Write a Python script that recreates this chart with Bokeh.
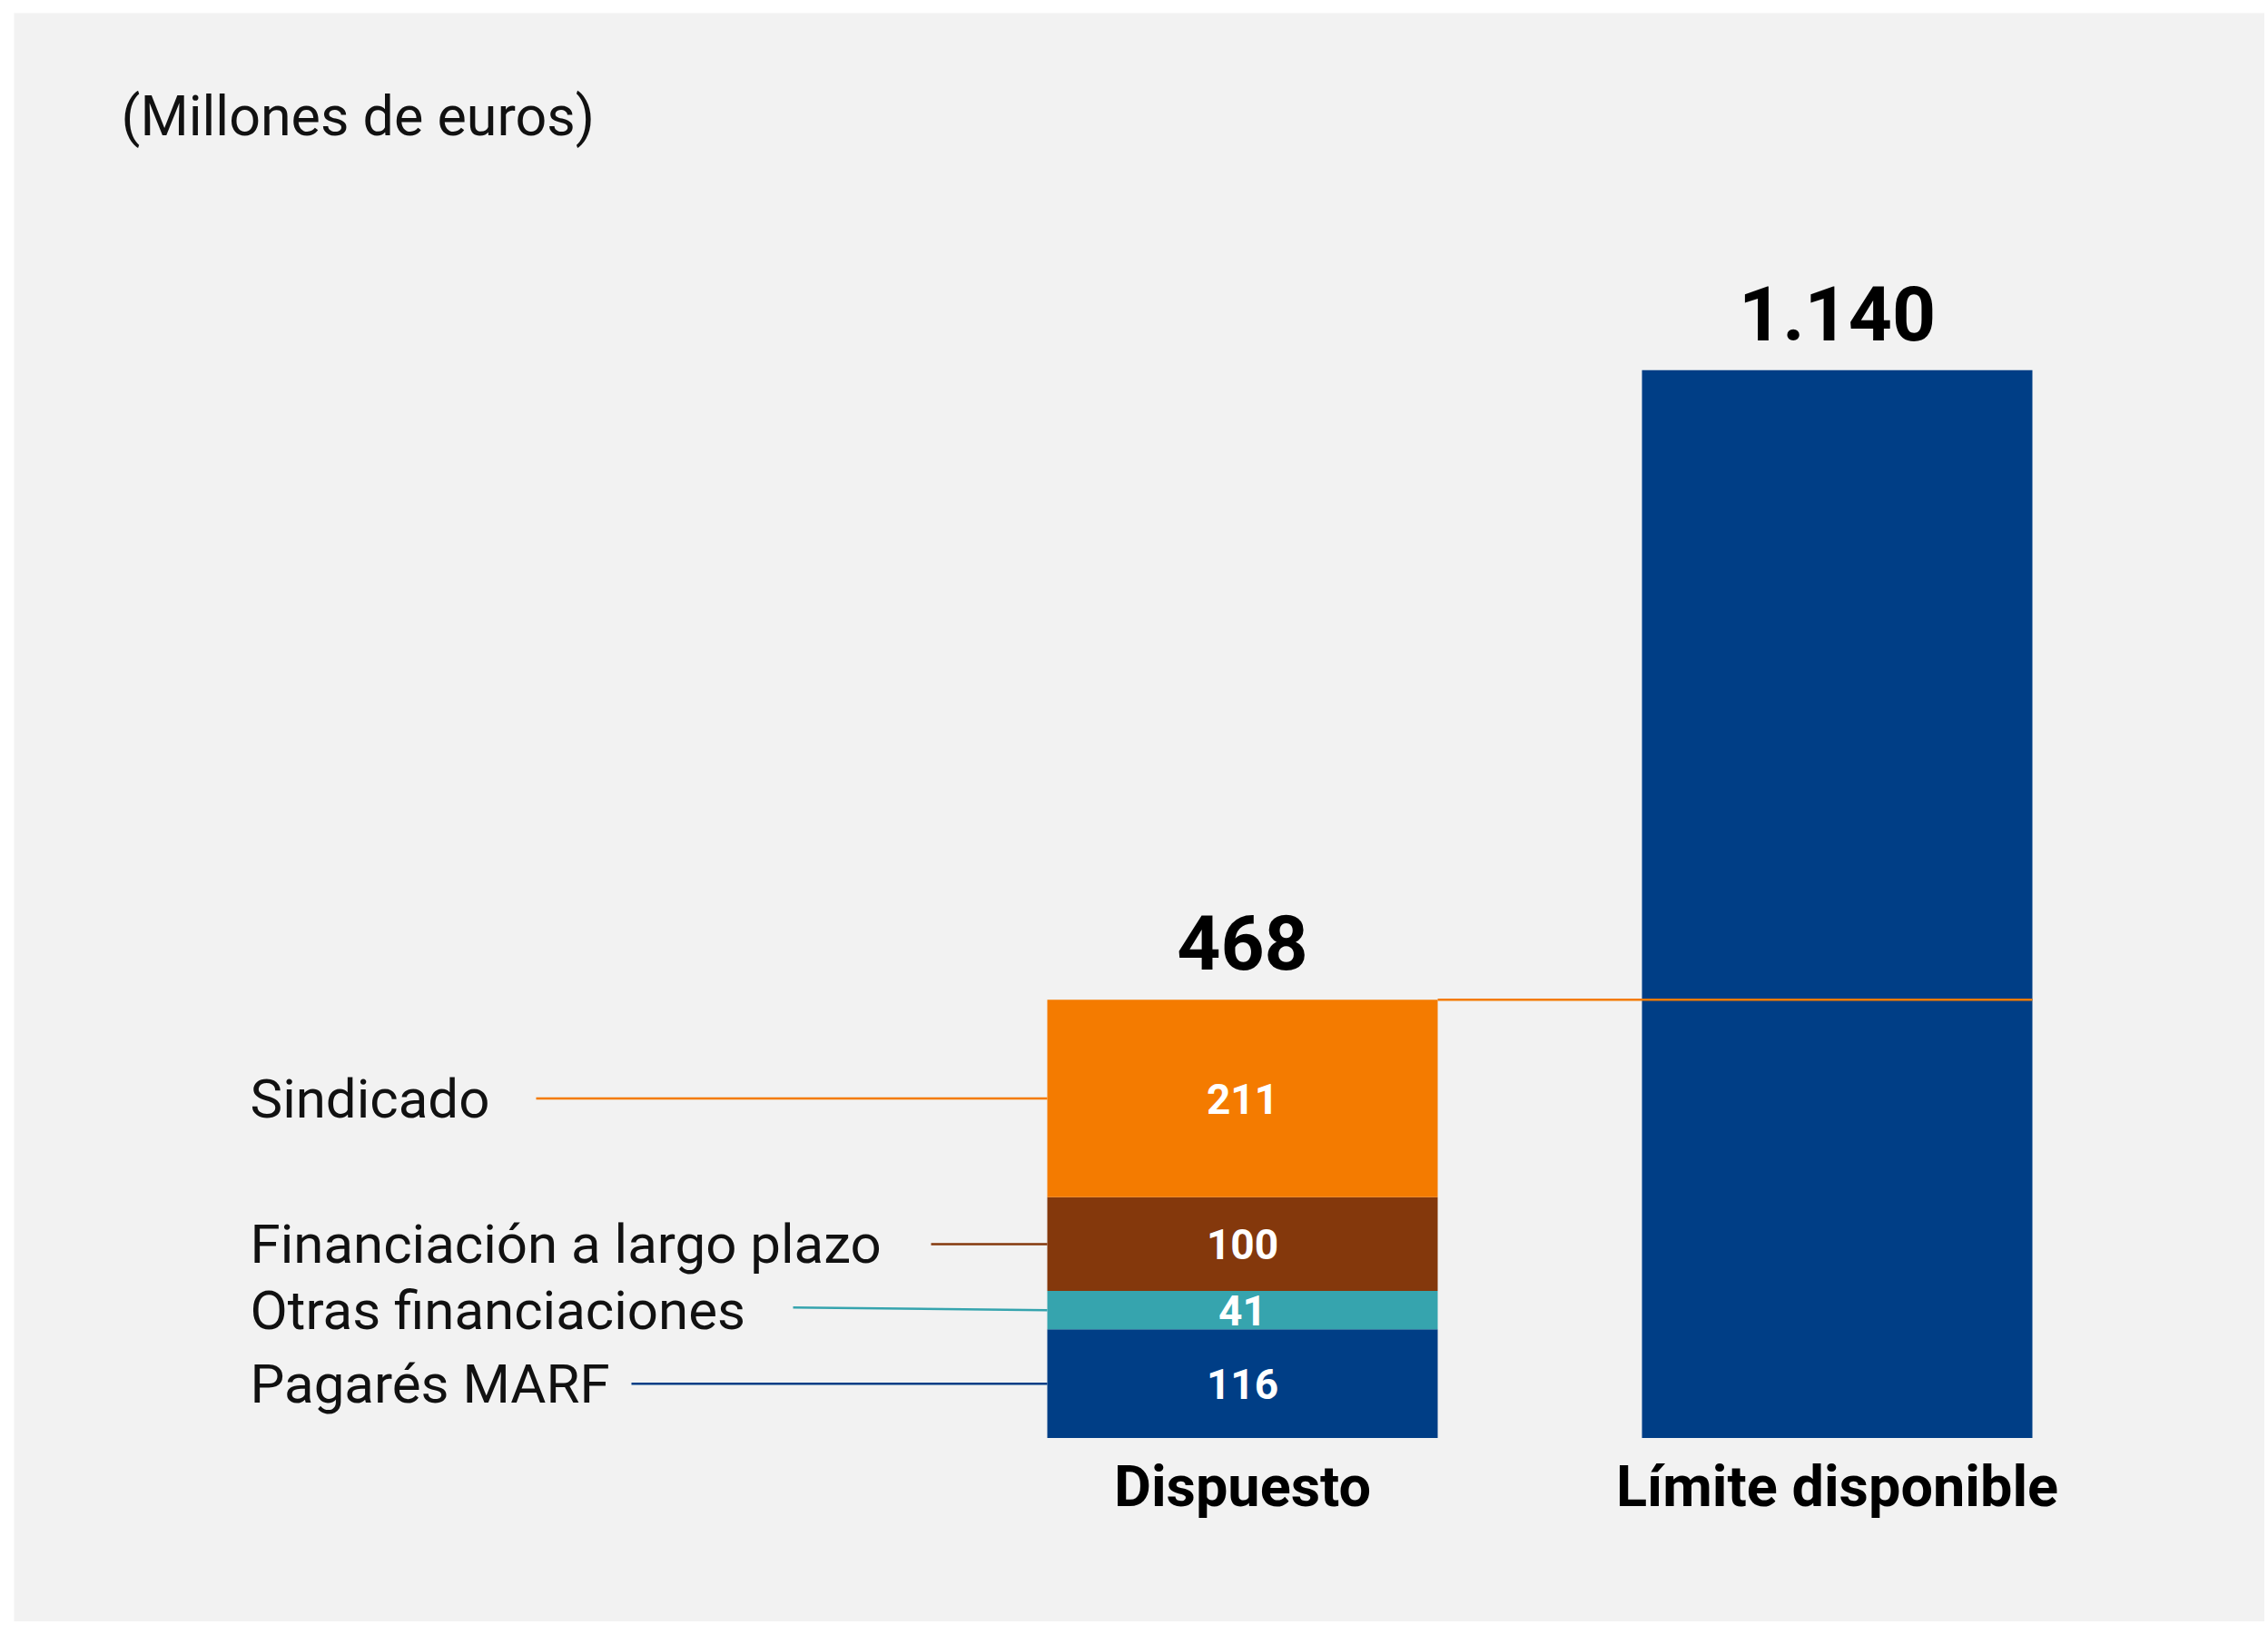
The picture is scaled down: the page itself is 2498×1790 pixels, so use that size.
from bokeh.plotting import figure
from bokeh.models import Range1d
from bokeh.embed import file_html
from bokeh.resources import INLINE
from bokeh.core.properties import value

# ---------------- data ----------------
categories = ["Dispuesto", "Límite disponible"]
segments = ["Pagarés MARF", "Otras financiaciones", "Financiación a largo  plazo", "Sindicado"]
segment_values = [116, 41, 100, 211]
segment_colors = ["#003E86", "#36A4AE", "#84380C", "#F47B00"]
dispuesto_total = 468
limite_total = 1140
total_labels = ["468", "1.140"]
unit_label = "(Millones de euros)"

# ---------------- layout ----------------
W, H = 2494, 1786
BORDER_L, BORDER_T = 15, 14
FRAME_L, FRAME_T = BORDER_L, BORDER_T
FRAME_R, FRAME_B = W, H
X0_PAGE, PX_PER_X = 1368.0, 655.0      # page x of category 0, px per category
Y0_PAGE, PX_PER_Y = 1583.5, 1.0317     # page y of value 0, px per unit
BAR_W = 430.0 / PX_PER_X

def px_x(page_x):
    return (page_x - X0_PAGE) / PX_PER_X

def px_y(page_y):
    return (Y0_PAGE - page_y) / PX_PER_Y

BG = "#F2F2F2"
FONT = "Roboto"

p = figure(width=W, height=H, output_backend="svg", toolbar_location=None,
           x_range=Range1d(px_x(FRAME_L), px_x(FRAME_R)),
           y_range=Range1d(px_y(FRAME_B), px_y(FRAME_T)),
           x_axis_location=None, y_axis_location=None,
           min_border_left=BORDER_L, min_border_top=BORDER_T,
           min_border_right=0, min_border_bottom=0)
p.background_fill_color = BG
p.border_fill_color = "white"
p.outline_line_color = None
p.grid.visible = False

# stacked bar "Dispuesto"
bottoms, tops, mids = [], [], []
acc = 0
for v in segment_values:
    bottoms.append(acc)
    tops.append(acc + v)
    mids.append(acc + v / 2)
    acc += v
p.vbar(x=[0] * len(segment_values), bottom=bottoms, top=tops, width=BAR_W,
       fill_color=segment_colors, line_color=None)

# bar "Límite disponible"
p.vbar(x=[1], bottom=[0], top=[limite_total], width=BAR_W,
       fill_color=segment_colors[0], line_color=None)

# level line at the drawn total
p.segment(x0=[BAR_W / 2], y0=[dispuesto_total], x1=[1 + BAR_W / 2], y1=[dispuesto_total],
          line_color=segment_colors[3], line_width=2.5)

# totals above bars
p.text(x=[0, 1], y=[dispuesto_total, limite_total], text=total_labels,
       text_align="center", text_baseline="middle", y_offset=-63,
       text_font=value(FONT), text_font_style="bold", text_font_size="84px",
       text_color="black")

# category labels
p.text(x=[0, 1], y=[0, 0], text=categories, text_align="center",
       text_baseline="middle", y_offset=53,
       text_font=value(FONT), text_font_style="bold", text_font_size="63px",
       text_color="black")

# segment values inside bar
p.text(x=[0] * len(segment_values), y=mids, text=[str(v) for v in segment_values],
       text_align="center", text_baseline="middle",
       text_font=value(FONT), text_font_style="bold", text_font_size="46px",
       text_color="white")

# left labels with leader lines
label_left_px = 275
line_start_px = [695, 873, 1025, 590]
line_rise_px = [0, 3, 0, 0]
p.text(x=[px_x(label_left_px)] * len(segments), y=mids, text=segments,
       text_align="left", text_baseline="middle",
       text_font=value(FONT), text_font_size="60px", text_color="#111111")
p.segment(x0=[px_x(s) for s in line_start_px],
          y0=[m + r / PX_PER_Y for m, r in zip(mids, line_rise_px)],
          x1=[-BAR_W / 2] * len(segments), y1=mids,
          line_color=segment_colors, line_width=2.5)

# unit label
p.text(x=[px_x(133)], y=[px_y(127)], text=[unit_label], text_align="left",
       text_baseline="middle", text_font=value(FONT), text_font_size="61px",
       text_color="#111111")

open("out.html", "w").write(file_html(p, INLINE))
